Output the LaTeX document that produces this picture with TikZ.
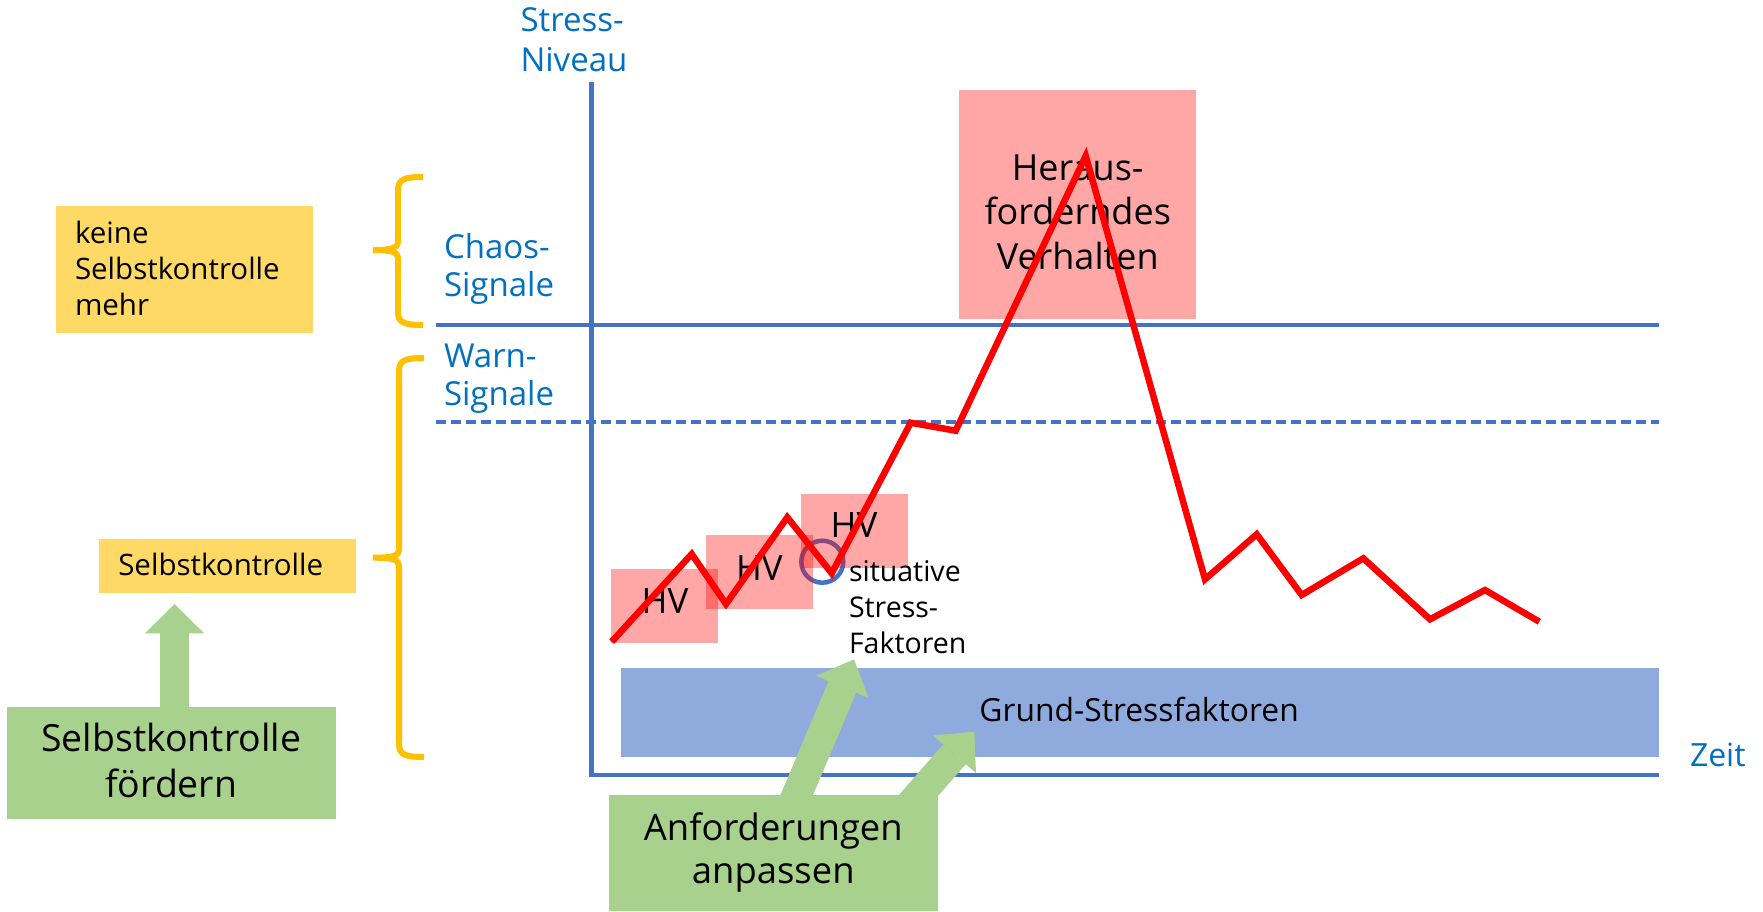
\documentclass[tikz,border=0pt]{standalone}
\usepackage{fontspec}
\setmainfont{Open Sans}
\usetikzlibrary{arrows.meta}

\definecolor{axblue}{HTML}{4472C4}
\definecolor{txtblue}{HTML}{0070C0}
\definecolor{yel}{HTML}{FFD966}
\definecolor{grn}{HTML}{A9D18E}
\definecolor{barblue}{HTML}{8FAADC}
\definecolor{bracey}{HTML}{FFC000}

% font size / baseline skip in one go
\newcommand\fs[2]{\fontsize{#1}{#2}\selectfont}
% stacked lines, baseline of the block = baseline of the first line
\newcommand\linesL[1]{\begin{tabular}[t]{@{}l@{}}#1\end{tabular}}
\newcommand\linesC[1]{\begin{tabular}[t]{@{}c@{}}#1\end{tabular}}

\begin{document}
\begin{tikzpicture}[x=1pt,y=-1pt,
  plain/.style={inner sep=0pt, outer sep=0pt, anchor=base west},
  pinkbox/.style={fill=red, fill opacity=0.35, text opacity=1, inner sep=0pt},
  yelbox/.style={fill=yel, inner sep=0pt},
  grnbox/.style={fill=grn, inner sep=0pt},
  axisline/.style={draw=axblue, line width=4.2pt},
  redline/.style={draw=red, line width=6.5pt, line join=miter},
  bracestyle/.style={draw=bracey, line width=6pt},
  fatarrow/.style={draw=grn, line width=30pt,
    -{Triangle[width=57pt,length=30pt,line width=0pt]}},
]
\useasboundingbox (0,0) rectangle (1763,911);
\fill[white] (0,0) rectangle (1763,911);

% challenging behaviour block
\node[pinkbox, minimum width=237pt, minimum height=229.3pt] (hvbig) at (1077.5,204.7) {};
\node[plain, anchor=base] (hvbigtxt) at (1077.7,180)
  {\fs{36}{44.7}\linesC{Heraus-\\forderndes\\Verhalten}};

% axes and levels
\coordinate (ytop) at (591.5,81.7);
\coordinate (O) at (591.5,775);
\coordinate (xend) at (1658.5,775);
\coordinate (chaosL) at (436,325);
\coordinate (chaosR) at (1658.5,325);
\coordinate (warnL) at (436,421.7);
\coordinate (warnR) at (1658.5,421.7);
\draw[axisline] (ytop) -- (O) -- (xend);
\draw[axisline] (chaosL) -- (chaosR);
\draw[axisline, dash pattern=on 10pt off 5pt] (warnL) -- (warnR);

\node[plain, text=txtblue] (ylab) at (520.5,31.7) {\fs{33}{40}\linesL{Stress-\\Niveau}};
\node[plain, text=txtblue] (chaos) at (444,258) {\fs{33}{38.5}\linesL{Chaos-\\Signale}};
\node[plain, text=txtblue] (warn) at (444,367) {\fs{33}{38.5}\linesL{Warn-\\Signale}};
\node[plain, text=txtblue] (zeit) at (1690,766) {\fs{32}{38}Zeit};

% base stress band
\node[fill=barblue, minimum width=1037.5pt, minimum height=88.4pt, inner sep=0pt] (grund) at (1139.75,712.5) {};
\node[plain] (grundtxt) at (979.4,721.7) {\fs{31.8}{38}Grund-Stressfaktoren};

% situational stressor marker
\node[circle, draw=axblue, line width=4.5pt, minimum size=42pt, inner sep=0pt] (sit) at (822.3,561.7) {};

% small HV episodes
\node[pinkbox, minimum width=106.7pt, minimum height=74.3pt] (hv1) at (664.4,606.2) {};
\node[pinkbox, minimum width=106.7pt, minimum height=74.3pt] (hv2) at (759.4,572.2) {};
\node[pinkbox, minimum width=106.7pt, minimum height=74.3pt] (hv3) at (854.4,531.2) {};
\node[plain] (hv1t) at (641.7,613.5) {\fs{35}{40}HV};
\node[plain] (hv2t) at (736,580) {\fs{35}{40}HV};
\node[plain] (hv3t) at (830.7,537.3) {\fs{35}{40}HV};

\node[plain] (sittxt) at (849,581.7) {\fs{28.5}{35.7}\linesL{situative\\Stress-\\Faktoren}};

% stress curve
\draw[redline] (611.7,641.7) -- (691.7,554) -- (726,604) -- (787.3,517.3)
  -- (831.7,573.3) -- (910.7,422.7) -- (955.7,430.7) -- (1085.7,156)
  -- (1205,579.3) -- (1256.7,534.3) -- (1301.7,595) -- (1363.3,558.3)
  -- (1430,619.3) -- (1485,590) -- (1539.3,621.7);

% left side: self control
\node[yelbox, minimum width=256.7pt, minimum height=126.7pt] (keine) at (184.2,269.4) {};
\node[plain] (keinetxt) at (75,243.3) {\fs{29.5}{36}\linesL{keine\\Selbstkontrolle\\mehr}};
\node[yelbox, minimum width=257pt, minimum height=54.3pt] (sk) at (227.5,566.2) {};
\node[plain] (sktxt) at (118.3,575) {\fs{29.5}{36}Selbstkontrolle};

\coordinate (upTip) at (174.6,604);
\node[grnbox, minimum width=328.4pt, minimum height=112pt] (sfbox) at (171.5,763.3) {};
\draw[fatarrow, -{Triangle[width=59pt,length=29.3pt,line width=0pt]}, line width=29.3pt]
  (sfbox.north -| upTip) -- (upTip);
\node[plain, anchor=base] (sftxt) at (171.2,751.7) {\fs{37.4}{45.6}\linesC{Selbstkontrolle\\fördern}};

% braces
\draw[bracestyle] (423,177) .. controls (405,177) and (398,179) .. (398,190)
  -- (398,241) .. controls (398,248) and (392,250) .. (373,250)
  .. controls (392,250) and (398,252) .. (398,259)
  -- (398,312) .. controls (398,323) and (405,325) .. (423,325);
\draw[bracestyle] (424,358) .. controls (406,358) and (399,360) .. (399,371)
  -- (399,549) .. controls (399,556) and (393,557.7) .. (373,557.7)
  .. controls (393,557.7) and (399,559.5) .. (399,566)
  -- (399,744) .. controls (399,755) and (406,757) .. (424,757);

% bottom: adapt demands
\coordinate (anfA) at (788.3,815);
\coordinate (tipA) at (854,659.3);
\coordinate (anfB) at (901.3,815);
\coordinate (tipB) at (974.3,731.7);
\draw[fatarrow] (anfA) -- (tipA);
\draw[fatarrow] (anfB) -- (tipB);
\node[grnbox, minimum width=328.4pt, minimum height=116pt] (anf) at (773.5,853) {};
\node[plain, anchor=base] (anftxt) at (773.3,840) {\fs{36.4}{43.3}\linesC{Anforderungen\\anpassen}};
\end{tikzpicture}
\end{document}
